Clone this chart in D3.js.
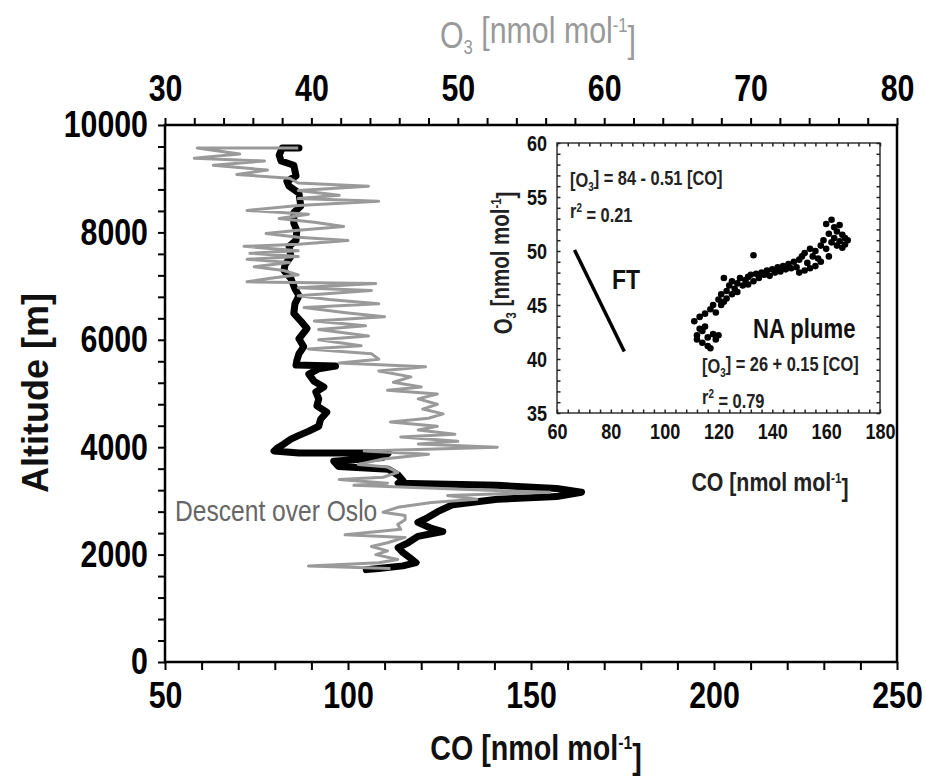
<!DOCTYPE html>
<html><head><meta charset="utf-8">
<script src="https://cdn.jsdelivr.net/npm/d3@7/dist/d3.min.js"></script>
<style>
body{margin:0;background:#fff}
text{font-family:"Liberation Sans",Arial,sans-serif}
</style>
</head><body>
<svg id="chart" width="926" height="779"></svg>
<script>
// ---------- DATA ----------
// CO profile (black): altitude [m], CO [nmol/mol]
const coAlt = [9570,9570,9440,9330,9250,9050,8950,8860,8730,8490,8370,8170,8040,7850,7740,7550,7400,7290,7140,6950,6820,6670,6490,6350,6210,6020,5870,5740,5610,5530,5510,5460,5360,5230,5120,5030,4900,4770,4650,4520,4390,4300,4220,4150,4060,3980,3930,3890,3890,3810,3740,3640,3590,3480,3380,3330,3290,3230,3160,3080,3030,2930,2800,2690,2600,2500,2430,2340,2220,2130,2040,1940,1850,1790,1740,1720];
const coVal = [86.6,82.0,81.2,81.7,85.2,85.8,83.3,83.9,86.6,87.1,85.2,85.2,86.0,85.8,83.9,84.4,82.8,82.5,84.4,85.5,86.6,85.5,85.2,87.1,88.8,86.6,87.9,86.6,86.0,85.8,96.6,92.0,89.3,90.7,93.4,91.2,92.0,91.5,94.2,92.5,92.0,89.3,86.6,84.4,82.5,80.6,79.8,86.6,111.0,109.6,96.1,97.4,111.0,113.7,115.0,113.7,140.8,157.0,163.8,157.0,140.8,128.6,124.5,121.8,119.1,122.4,125.9,119.1,116.4,113.7,115.0,116.9,118.6,115.0,108.3,105.0];

// O3 profile (grey): altitude [m], O3 [nmol/mol]
const o3Alt = [9570,9570,9460,9380,9330,9250,9160,9080,9010,8920,8860,8780,8690,8630,8580,8500,8410,8340,8260,8190,8110,8040,7980,7910,7850,7780,7740,7660,7610,7550,7500,7440,7360,7290,7210,7140,7080,7050,6970,6920,6820,6750,6670,6600,6500,6430,6350,6260,6190,6070,6000,5890,5830,5740,5640,5570,5500,5420,5310,5210,5120,5060,4990,4900,4800,4710,4620,4540,4470,4390,4320,4240,4190,4110,4060,4000,3930,3870,3780,3680,3630,3530,3440,3400,3330,3290,3210,3160,3100,3030,2970,2880,2790,2730,2650,2560,2470,2370,2320,2220,2150,2070,2000,1910,1850,1790,1740];
const o3Val = [39.1,32.2,35.1,32.0,36.8,33.3,37.0,34.9,38.5,39.1,43.9,39.1,41.9,39.1,44.6,39.1,35.6,39.8,37.8,40.2,42.2,39.1,36.9,39.1,42.5,39.1,35.4,39.1,35.8,39.1,35.6,38.5,36.1,38.1,39.1,37.1,35.6,44.4,39.1,44.1,39.1,41.2,44.6,39.5,42.5,45.0,40.2,43.7,40.5,43.9,40.5,43.4,39.8,44.1,44.6,41.9,47.8,44.6,46.8,45.6,47.5,45.2,48.6,47.3,48.6,47.6,49.0,48.0,45.4,48.6,47.3,49.8,46.1,50.0,47.3,52.7,43.6,48.0,44.9,43.2,45.2,45.9,44.9,41.9,45.2,42.9,50.7,56.3,49.3,51.3,48.2,45.9,44.9,46.4,46.4,45.9,46.1,42.3,46.4,45.2,44.1,45.2,44.4,45.9,44.6,39.8,45.4];

// Inset: NA plume scatter
const plumeCO = [111,112,112,113,113,114,114,115,115,116,116,117,117,118,118,119,119,120,120,121,121,122,122,123,123,124,125,125,126,127,127,128,129,130,131,131,132,133,133,134,135,136,137,138,139,140,141,142,143,144,145,146,147,148,149,150,150,151,152,152,153,154,154,155,156,156,157,158,158,159,160,160,161,161,162,162,163,163,164,164,165,165,166,166,167,167,168];
const plumeO3 = [43.5,42.2,41.8,42.8,43.9,41.5,42.6,44.2,43.0,41.2,42.0,44.6,41.0,42.3,45.0,41.8,44.3,45.5,42.2,45.0,46.0,45.3,47.5,46.3,45.6,46.8,46.0,47.2,46.5,47.0,46.2,47.5,46.8,47.3,47.6,46.9,47.8,49.6,47.2,47.9,47.5,48.0,47.8,48.2,47.7,48.3,48.0,48.5,48.1,48.6,48.3,48.8,48.4,49.0,48.5,49.2,48.0,49.5,48.2,49.8,48.9,50.2,48.4,49.5,50.0,48.6,49.3,50.5,49.0,51.0,50.2,52.5,49.5,51.6,52.9,50.8,51.2,52.2,50.5,51.8,52.4,50.9,51.5,50.3,51.2,50.6,51.0];
// Inset: FT regression segment endpoints
const ftCO = [66.5, 85.0];
const ftO3 = [50.1, 40.7];

// Tick labels
const coTicks = [50,100,150,200,250];
const o3Ticks = [30,40,50,60,70,80];
const altTicks = [0,2000,4000,6000,8000,10000];
const insetCOTicks = [60,80,100,120,140,160,180];
const insetO3Ticks = [35,40,45,50,55,60];

// ---------- LAYOUT ----------
const NX = 0.82; // horizontal condensation (narrow type look)
const svg = d3.select("#chart");
const L = 165, R = 897, T = 125, B = 662;
const x = d3.scaleLinear().domain([50,250]).range([L,R]);
const xo = d3.scaleLinear().domain([30,80]).range([L,R]);
const y = d3.scaleLinear().domain([0,10000]).range([B,T]);

function styleAxis(g, fs, weight, col){
  g.select(".domain").remove();
  g.selectAll(".tick line").attr("stroke","#000").attr("stroke-width",2);
  g.selectAll(".tick text").attr("fill",col||"#000").style("font-size",fs+"px").style("font-weight",weight)
    .attr("x", function(){ const v = +d3.select(this).attr("x") || 0; return v / NX; })
    .attr("transform", `scale(${NX},1)`);
}
// narrow text helper
function ntext(xp, yp, fs, opts){
  opts = opts || {};
  return svg.append("text")
    .attr("transform", `translate(${xp},${yp})` + (opts.rot ? ` rotate(${opts.rot})` : "") + (opts.wide ? "" : ` scale(${NX},1)`))
    .attr("text-anchor", opts.anchor || "start")
    .style("font-size", fs + "px").style("font-weight", opts.bold ? "bold" : "normal")
    .attr("fill", opts.fill || "#111");
}

// bottom CO axis
const gB = svg.append("g").attr("transform",`translate(0,${B})`)
  .call(d3.axisBottom(x).tickValues(d3.range(50,251,10)).tickSize(8).tickPadding(12)
    .tickFormat(d => coTicks.includes(d) ? d : ""));
styleAxis(gB, 37, "bold");
// top O3 axis
const gT = svg.append("g").attr("transform",`translate(0,${T})`)
  .call(d3.axisTop(xo).tickValues(d3.range(30,80.01,2)).tickSize(7).tickPadding(17)
    .tickFormat(d => o3Ticks.includes(d) ? d : ""));
styleAxis(gT, 37, "bold");
// left altitude axis
const gL = svg.append("g").attr("transform",`translate(${L},0)`)
  .call(d3.axisLeft(y).tickValues(d3.range(0,10001,400)).tickSize(7).tickPadding(10)
    .tickFormat(d => altTicks.includes(d) ? d : ""));
styleAxis(gL, 37, "bold");

// frame
svg.append("rect").attr("x",L).attr("y",T).attr("width",R-L).attr("height",B-T)
  .attr("fill","none").attr("stroke","#000").attr("stroke-width",2.5);

// profiles
const coLine = d3.line().x((d,i)=>x(coVal[i])).y((d,i)=>y(coAlt[i]));
svg.append("path").datum(coAlt).attr("d",coLine).attr("fill","none")
  .attr("stroke","#000").attr("stroke-width",7).attr("stroke-linejoin","round").attr("stroke-linecap","round");
const o3Line = d3.line().x((d,i)=>xo(o3Val[i])).y((d,i)=>y(o3Alt[i]));
svg.append("path").datum(o3Alt).attr("d",o3Line).attr("fill","none")
  .attr("stroke","#9a9a9a").attr("stroke-width",3).attr("stroke-linejoin","round");

// text helper for units with sub/superscripts
function unitLabel(t, prefix, sub){
  t.append("tspan").text(prefix);
  if(sub){ t.append("tspan").attr("dy","0.3em").style("font-size","0.55em").text(sub);
           t.append("tspan").attr("dy","-0.3em").text(" [nmol mol"); }
  else t.append("tspan").text(" [nmol mol");
  t.append("tspan").attr("dy","-0.55em").style("font-size","0.55em").text("-1");
  t.append("tspan").attr("dy","0.55em").text("]");
}

// axis titles
unitLabel(ntext(536, 760, 35, {anchor:"middle", bold:true}), "CO", null);
unitLabel(ntext(538, 48, 37, {anchor:"middle", fill:"#999"}), "O", "3");
ntext(48, 393, 36, {anchor:"middle", bold:true, rot:-90, wide:true}).text("Altitude [m]");
ntext(175, 521, 30, {fill:"#666"}).text("Descent over Oslo");

// ---------- INSET ----------
const iL = 557, iR = 880, iT = 143, iB = 413;
const xi = d3.scaleLinear().domain([60,180]).range([iL,iR]);
const yi = d3.scaleLinear().domain([35,60]).range([iB,iT]);
svg.append("rect").attr("x",iL).attr("y",iT).attr("width",iR-iL).attr("height",iB-iT)
  .attr("fill","#fff").attr("stroke","#333").attr("stroke-width",1.5);

function insetTicks(axisGen, tr, vals, majors, labels){
  const g = svg.append("g").attr("transform",tr)
    .call(axisGen.tickValues(vals).tickSize(-3.5).tickPadding(10).tickFormat(d => labels && majors.includes(d) ? d : ""));
  g.select(".domain").remove();
  g.selectAll(".tick line").attr("stroke","#222").attr("stroke-width",1.5);
  g.selectAll(".tick text").attr("fill","#111").style("font-size","22px").style("font-weight","bold")
    .attr("x", function(){ const v = +d3.select(this).attr("x") || 0; return v / NX; })
    .attr("transform", `scale(${NX},1)`);
  return g;
}
const ixVals = d3.range(60,180.01,4);
const iyVals = d3.range(35,60.01,1);
insetTicks(d3.axisBottom(xi), `translate(0,${iB})`, ixVals, insetCOTicks, true);
insetTicks(d3.axisTop(xi), `translate(0,${iT})`, ixVals, insetCOTicks, false);
insetTicks(d3.axisLeft(yi), `translate(${iL},0)`, iyVals, insetO3Ticks, true);
insetTicks(d3.axisRight(yi), `translate(${iR},0)`, iyVals, insetO3Ticks, false);

// FT regression line
svg.append("line").attr("x1",xi(ftCO[0])).attr("y1",yi(ftO3[0])).attr("x2",xi(ftCO[1])).attr("y2",yi(ftO3[1]))
  .attr("stroke","#000").attr("stroke-width",3.5);
// NA plume points
svg.append("g").selectAll("circle").data(plumeCO).join("circle")
  .attr("cx",(d)=>xi(d)).attr("cy",(d,i)=>yi(plumeO3[i])).attr("r",3.3).attr("fill","#000");

// inset texts
function eq(xp, yp, a, b){
  const t = ntext(xp, yp, 20, {bold:true, fill:"#222"});
  t.append("tspan").text("[O");
  t.append("tspan").attr("dy","0.3em").style("font-size","0.6em").text("3");
  t.append("tspan").attr("dy","-0.3em").text("] = " + a);
  const r = ntext(xp, yp+31, 20, {bold:true, fill:"#222"});
  r.append("tspan").text("r");
  r.append("tspan").attr("dy","-0.5em").style("font-size","0.6em").text("2");
  r.append("tspan").attr("dy","0.5em").text(" = " + b);
}
eq(570, 187, "84 - 0.51 [CO]", "0.21");
eq(702, 373, "26 + 0.15 [CO]", "0.79");
ntext(612, 289, 28, {bold:true}).text("FT");
ntext(753, 338, 27, {bold:true}).text("NA plume");
unitLabel(ntext(770, 491, 26, {anchor:"middle", bold:true, fill:"#222"}), "CO", null);
unitLabel(ntext(512, 263, 25, {anchor:"middle", bold:true, fill:"#222", rot:-90}), "O", "3");
</script>
</body></html>
